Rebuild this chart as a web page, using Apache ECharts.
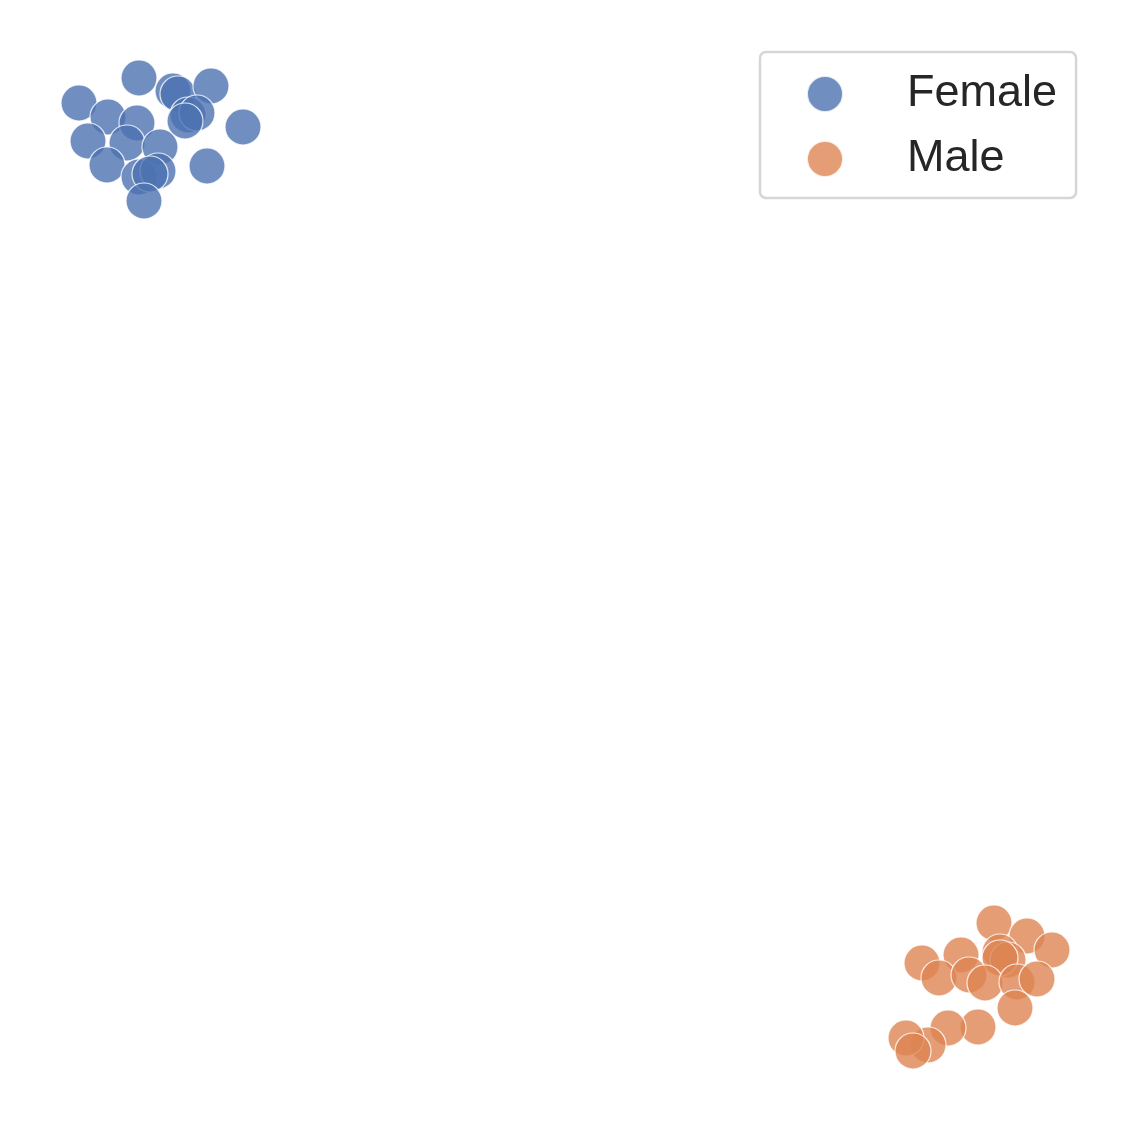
<!DOCTYPE html>
<html>
<head>
<meta charset="utf-8">
<script src="https://cdn.jsdelivr.net/npm/echarts@6/dist/echarts.min.js"></script>
<style>
  html, body { margin: 0; padding: 0; background: #fff; }
  #chart { width: 1130px; height: 1130px; }
</style>
</head>
<body>
<div id="chart"></div>
<script>
// embedding coordinates
var female_x = [-8.52, -9.72, -7.84, -7.74, -7.08, -9.14, -8.56, -7.54, -7.36, -7.60,
                -6.44, -9.54, -8.76, -8.10, -9.16, -7.16, -8.52, -8.14, -8.30, -8.42];
var female_y = [9.74, 9.24, 9.48, 9.42, 9.58, 8.96, 8.84, 9.00, 9.04, 8.88,
                8.76, 8.48, 8.44, 8.36, 8.00, 7.98, 7.76, 7.88, 7.82, 7.28];
var male_x = [8.58, 9.24, 9.74, 7.14, 7.92, 8.70, 8.86, 8.70, 7.48, 8.08,
              8.40, 9.04, 9.44, 9.00, 8.26, 7.66, 7.26, 6.82, 6.96];
var male_y = [-7.16, -7.42, -7.70, -7.96, -7.80, -7.74, -7.90, -7.86, -8.26, -8.20,
              -8.36, -8.34, -8.28, -8.86, -9.24, -9.26, -9.60, -9.46, -9.72];

function zip(xs, ys) {
    var out = [];
    for (var i = 0; i < xs.length; i++) out.push([xs[i], ys[i]]);
    return out;
}

var chart = echarts.init(document.getElementById('chart'));

var hiddenAxis = {
    type: 'value',
    min: -11.3,
    max: 11.3,
    show: false,
    splitLine: { show: false }
};

var option = {
    animation: false,
    backgroundColor: '#ffffff',
    grid: { left: 0, right: 0, top: 0, bottom: 0 },
    xAxis: hiddenAxis,
    yAxis: hiddenAxis,
    legend: {
        left: 760,
        top: 52,
        orient: 'vertical',
        icon: 'circle',
        itemWidth: 36,
        itemHeight: 36,
        itemGap: 15,
        padding: [17, 19, 14, 46],
        borderColor: '#d6d6d6',
        borderWidth: 2.5,
        borderRadius: 6,
        backgroundColor: '#ffffff',
        textStyle: {
            fontFamily: 'Liberation Sans, Arial, sans-serif',
            fontSize: 45,
            lineHeight: 50,
            color: '#262626',
            padding: [0, 0, 0, 59]
        },
        data: ['Female', 'Male']
    },
    series: [
        {
            name: 'Female',
            type: 'scatter',
            symbolSize: 36,
            itemStyle: { color: '#4c72b0', opacity: 0.8, borderColor: '#ffffff', borderWidth: 1.2 },
            data: zip(female_x, female_y)
        },
        {
            name: 'Male',
            type: 'scatter',
            symbolSize: 36,
            itemStyle: { color: '#dd8452', opacity: 0.8, borderColor: '#ffffff', borderWidth: 1.2 },
            data: zip(male_x, male_y)
        }
    ]
};

chart.setOption(option);
</script>
</body>
</html>
